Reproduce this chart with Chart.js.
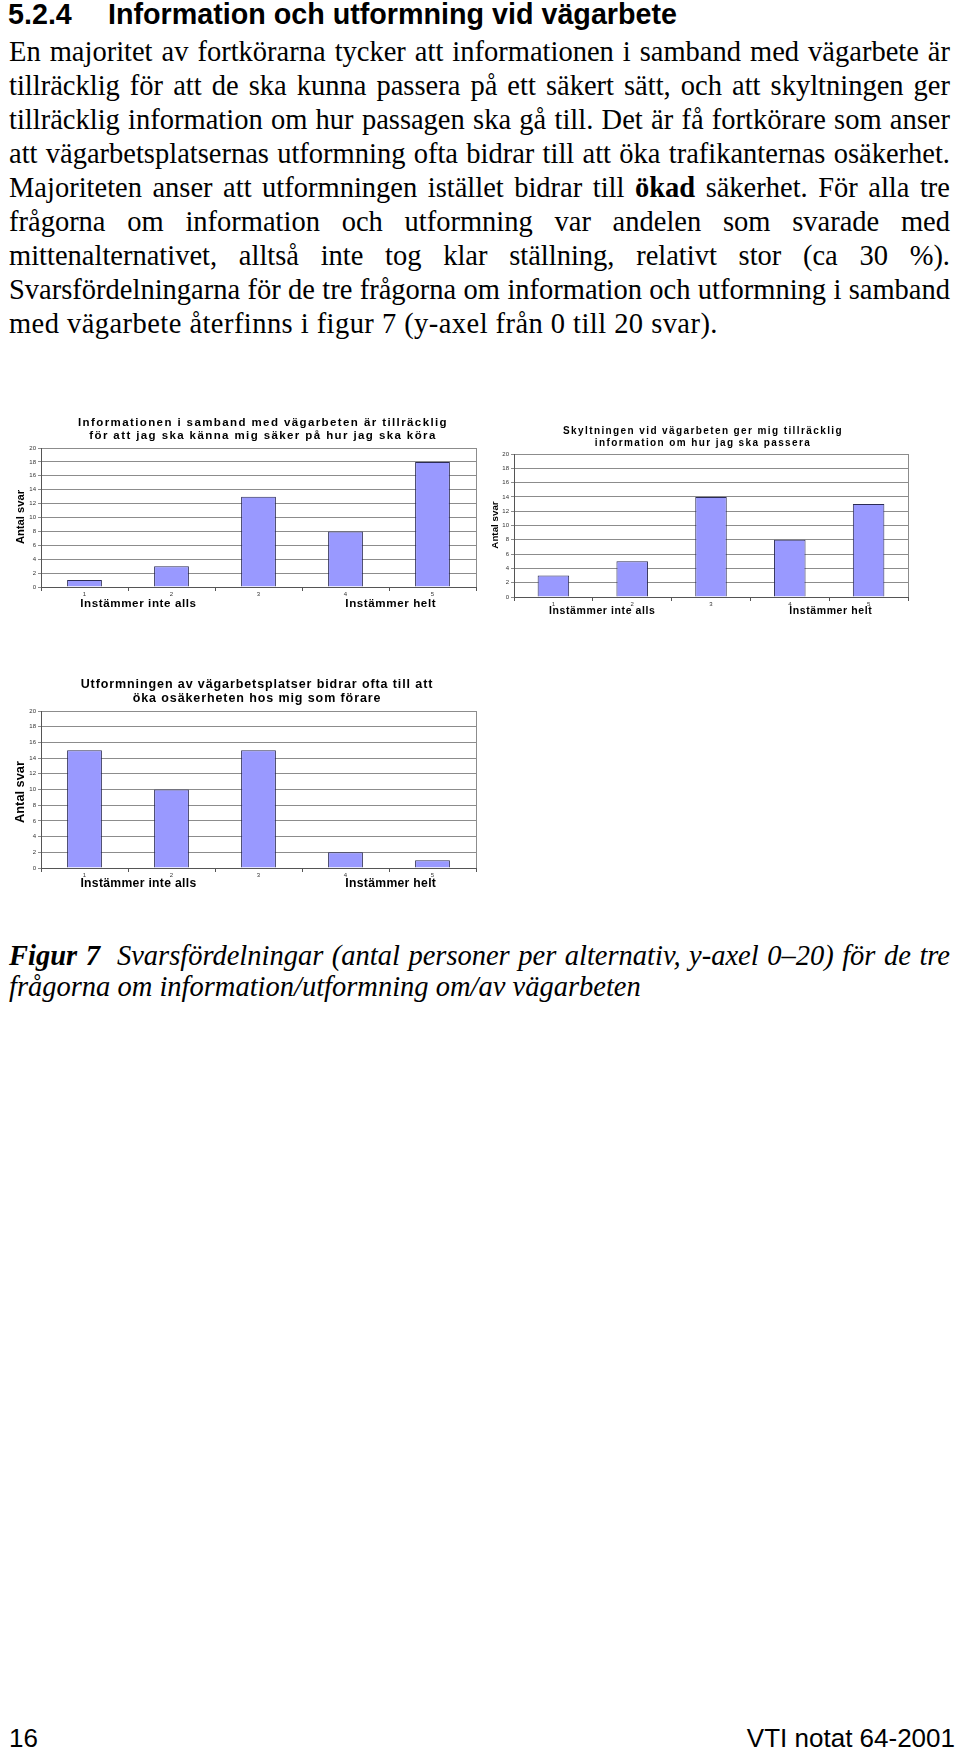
<!DOCTYPE html>
<html lang="sv">
<head>
<meta charset="utf-8">
<title>Figur 7</title>
<script src="https://cdn.jsdelivr.net/npm/chart.js@4.4.1/dist/chart.umd.min.js"></script>
<style>
  html, body { margin: 0; padding: 0; background: #fff; }
  body { width: 960px; height: 1750px; position: relative; overflow: hidden; color: #000; }
  .head { position: absolute; top: 0; font: bold 28.7px/28px Arial, "Liberation Sans", sans-serif; white-space: nowrap; }
  .text { position: absolute; left: 9px; width: 941px; font-family: "Liberation Serif", "Times New Roman", serif; font-size: 28.5px; }
  .text div { white-space: nowrap; text-align: justify; text-align-last: justify; }
  .text div.last { text-align-last: left; }
  #body { top: 35px; line-height: 34px; }
  #body div.last { letter-spacing: 0.45px; }
  #caption { top: 940px; line-height: 31px; font-style: italic; }
  .foot { position: absolute; top: 1725px; font: 26px/26px Arial, "Liberation Sans", sans-serif; white-space: nowrap; }
  canvas { position: absolute; }
</style>
</head>
<body>
<div class="head" style="left:8px">5.2.4</div>
<div class="head" style="left:108px">Information och utformning vid vägarbete</div>

<div class="text" id="body">
  <div>En majoritet av fortkörarna tycker att informationen i samband med vägarbete är</div>
  <div>tillräcklig för att de ska kunna passera på ett säkert sätt, och att skyltningen ger</div>
  <div>tillräcklig information om hur passagen ska gå till. Det är få fortkörare som anser</div>
  <div>att vägarbetsplatsernas utformning ofta bidrar till att öka trafikanternas osäkerhet.</div>
  <div>Majoriteten anser att utformningen istället bidrar till <b>ökad</b> säkerhet. För alla tre</div>
  <div>frågorna om information och utformning var andelen som svarade med</div>
  <div>mittenalternativet, alltså inte tog klar ställning, relativt stor (ca 30 %).</div>
  <div>Svarsfördelningarna för de tre frågorna om information och utformning i samband</div>
  <div class="last">med vägarbete återfinns i figur 7 (y-axel från 0 till 20 svar).</div>
</div>

<canvas id="chart1" width="490" height="230" style="left:0;top:400px"></canvas>
<canvas id="chart2" width="490" height="230" style="left:470px;top:400px"></canvas>
<canvas id="chart3" width="490" height="240" style="left:0;top:660px"></canvas>

<div class="text" id="caption">
  <div><b>Figur 7</b>&nbsp; Svarsfördelningar (antal personer per alternativ, y-axel 0–20) för de tre</div>
  <div class="last">frågorna om information/utformning om/av vägarbeten</div>
</div>

<div class="foot" style="left:9px">16</div>
<div class="foot" style="right:5px">VTI notat 64-2001</div>

<script>
// svarsalternativ 1-5 och antal svar per fråga
const categories = ['1', '2', '3', '4', '5'];
const infoValues = [1, 3, 13, 8, 18];
const skyltValues = [3, 5, 14, 8, 13];
const utformValues = [15, 10, 15, 2, 1];
const yMin = 0;
const yMax = 20;
const yStep = 2;
const scaleEnds = ['Instämmer inte alls', 'Instämmer helt'];
const yTitle = 'Antal svar';
const infoTitle = ['Informationen i samband med vägarbeten är tillräcklig', 'för att jag ska känna mig säker på hur jag ska köra'];
const skyltTitle = ['Skyltningen vid vägarbeten ger mig tillräcklig', 'information om hur jag ska passera'];
const utformTitle = ['Utformningen av vägarbetsplatser bidrar ofta till att', 'öka osäkerheten hos mig som förare'];

const FONT = 'Arial, "Liberation Sans", sans-serif';
Chart.defaults.font.family = FONT;
Chart.defaults.color = '#333';

// titel, y-axeltitel och skaländarna ritas här
const figureText = {
    id: 'figureText',
    afterDraw(chart, args, o) {
        const ctx = chart.ctx;
        const area = chart.chartArea;
        const x = chart.scales.x;
        ctx.save();
        ctx.strokeStyle = '#8c8c8c';
        ctx.lineWidth = 1;
        ctx.beginPath();
        ctx.moveTo(Math.round(area.right) + 0.5, area.top);
        ctx.lineTo(Math.round(area.right) + 0.5, area.bottom);
        ctx.stroke();

        ctx.fillStyle = '#000';
        ctx.textAlign = 'center';
        ctx.textBaseline = 'middle';
        ctx.font = 'bold ' + o.titleSize + 'px ' + FONT;
        ctx.letterSpacing = o.titleSpacing + 'px';
        o.title.forEach((line, i) => ctx.fillText(line, o.titleX, o.titleY[i]));

        ctx.font = 'bold ' + o.endSize + 'px ' + FONT;
        ctx.letterSpacing = o.endSpacing + 'px';
        ctx.fillText(scaleEnds[0], x.getPixelForValue(0.62), o.endY);
        ctx.fillText(scaleEnds[1], x.getPixelForValue(3.52), o.endY);

        ctx.letterSpacing = '0px';
        ctx.font = 'bold ' + o.ySize + 'px ' + FONT;
        ctx.translate(o.yTitleX, o.yTitleY);
        ctx.rotate(-Math.PI / 2);
        ctx.fillText(yTitle, 0, 0);
        ctx.restore();
    }
};

function makeChart(id, values, yWidth, padding, text) {
    return new Chart(document.getElementById(id), {
        type: 'bar',
        data: {
            labels: categories,
            datasets: [{
                data: values,
                backgroundColor: '#9999ff',
                borderColor: '#2b2b55',
                borderWidth: 1,
                categoryPercentage: 1,
                barPercentage: 0.4
            }]
        },
        options: {
            responsive: false,
            animation: false,
            layout: { padding: padding },
            plugins: {
                legend: { display: false },
                tooltip: { enabled: false },
                figureText: text
            },
            scales: {
                x: {
                    offset: true,
                    grid: { offset: true, drawOnChartArea: false, tickLength: 4, color: '#555' },
                    border: { color: '#555' },
                    ticks: { font: { size: 6 }, padding: 0, maxRotation: 0 },
                    afterFit(scale) { scale.height = 12; }
                },
                y: {
                    min: yMin,
                    max: yMax,
                    ticks: { stepSize: yStep, font: { size: 6 }, padding: 2 },
                    grid: { color: '#8c8c8c', tickLength: 3 },
                    border: { color: '#555' },
                    afterFit(scale) { scale.width = yWidth; }
                }
            }
        },
        plugins: [figureText]
    });
}

makeChart('chart1', infoValues, 41, { left: 0, right: 14, top: 48, bottom: 31 }, {
    title: infoTitle, titleX: 263, titleY: [23, 36], titleSize: 11.5, titleSpacing: 1.4,
    endY: 204, endSize: 11.6, endSpacing: 0.6,
    yTitleX: 21, yTitleY: 117, ySize: 11.2
});

makeChart('chart2', skyltValues, 44, { left: 0, right: 52, top: 54, bottom: 21 }, {
    title: skyltTitle, titleX: 233, titleY: [31, 43], titleSize: 10, titleSpacing: 1.4,
    endY: 211, endSize: 10.5, endSpacing: 0.6,
    yTitleX: 25, yTitleY: 125, ySize: 9.8
});

makeChart('chart3', utformValues, 41, { left: 0, right: 14, top: 51, bottom: 20 }, {
    title: utformTitle, titleX: 257, titleY: [25, 39], titleSize: 12.5, titleSpacing: 0.9,
    endY: 224, endSize: 12.2, endSpacing: 0.3,
    yTitleX: 20, yTitleY: 132, ySize: 12.8
});
</script>
</body>
</html>
